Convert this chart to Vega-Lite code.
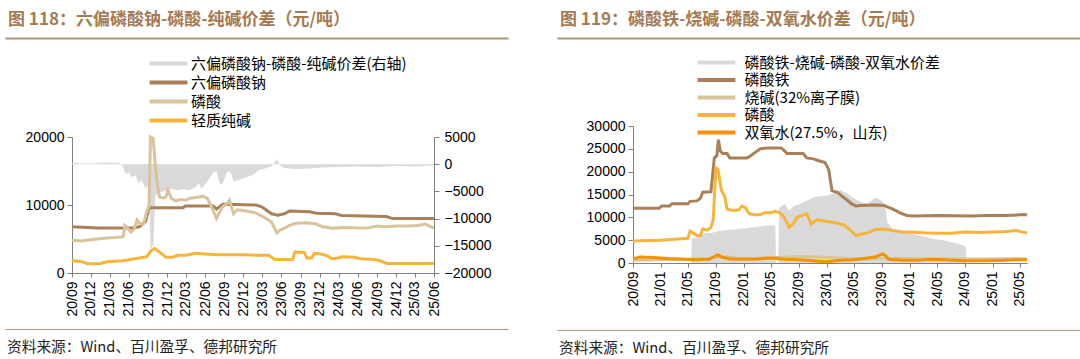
{
"$schema": "https://vega.github.io/schema/vega-lite/v6.json",
"background": "white",
"padding": {"left": 5, "top": 11, "right": 0, "bottom": 0},
"config": {
  "font": "Liberation Sans",
  "view": {"stroke": null},
  "axis": {"labelFont": "Liberation Sans", "labelFontSize": 14, "labelColor": "#000", "domainColor": "#808080", "tickColor": "#808080", "tickSize": 5, "grid": false, "title": null, "labelFlush": false, "labelBound": false, "labelOverlap": false},
  "title": {"font": "Noto Sans CJK SC", "frame": "bounds"}
},
"datasets": {
"hd": [{"x": 0}],
"lA": [{"d":"2020-09-01","v":200},{"d":"2020-12-01","v":150},{"d":"2021-02-01","v":300},{"d":"2021-04-15","v":200},{"d":"2021-05-01","v":-300},{"d":"2021-05-15","v":-1800},{"d":"2021-06-01","v":-1500},{"d":"2021-06-15","v":-2500},{"d":"2021-07-01","v":-2000},{"d":"2021-07-15","v":-3500},{"d":"2021-08-01","v":-3000},{"d":"2021-08-20","v":-4500},{"d":"2021-09-05","v":-3500},{"d":"2021-09-12","v":-15500},{"d":"2021-09-25","v":-15000},{"d":"2021-10-05","v":-6000},{"d":"2021-10-20","v":-5200},{"d":"2021-11-15","v":-5000},{"d":"2021-12-15","v":-4500},{"d":"2022-01-15","v":-4800},{"d":"2022-02-15","v":-4600},{"d":"2022-03-15","v":-4800},{"d":"2022-04-15","v":-4200},{"d":"2022-05-01","v":-3500},{"d":"2022-05-15","v":-4500},{"d":"2022-06-15","v":-3000},{"d":"2022-07-10","v":-1500},{"d":"2022-07-25","v":-1300},{"d":"2022-08-10","v":-3800},{"d":"2022-08-25","v":-3500},{"d":"2022-09-15","v":-1300},{"d":"2022-10-01","v":-1500},{"d":"2022-10-15","v":-3200},{"d":"2022-11-15","v":-2800},{"d":"2022-12-15","v":-2400},{"d":"2023-01-15","v":-2000},{"d":"2023-02-15","v":-1000},{"d":"2023-03-15","v":-800},{"d":"2023-04-15","v":-400},{"d":"2023-05-10","v":900},{"d":"2023-05-25","v":-200},{"d":"2023-06-15","v":-700},{"d":"2023-08-15","v":-900},{"d":"2023-10-15","v":-800},{"d":"2023-12-15","v":-600},{"d":"2024-03-01","v":-500},{"d":"2024-06-01","v":-400},{"d":"2024-09-01","v":-500},{"d":"2024-12-01","v":-300},{"d":"2025-03-01","v":-400},{"d":"2025-06-01","v":-200}],
"lB": [{"d":"2020-09-01","v":6800},{"d":"2020-11-15","v":6700},{"d":"2021-01-01","v":6600},{"d":"2021-06-15","v":6600},{"d":"2021-07-20","v":6800},{"d":"2021-08-20","v":7600},{"d":"2021-09-05","v":9600},{"d":"2022-02-15","v":9600},{"d":"2022-02-25","v":9850},{"d":"2022-07-10","v":9850},{"d":"2022-07-25","v":9400},{"d":"2022-08-10","v":9800},{"d":"2022-08-25","v":10100},{"d":"2023-02-01","v":10000},{"d":"2023-03-01","v":9700},{"d":"2023-04-15","v":8700},{"d":"2023-05-15","v":8500},{"d":"2023-06-15","v":8700},{"d":"2023-07-10","v":9100},{"d":"2023-10-15","v":9000},{"d":"2023-11-15","v":8800},{"d":"2024-02-15","v":8700},{"d":"2024-03-15","v":8450},{"d":"2024-10-15","v":8300},{"d":"2024-11-15","v":8000},{"d":"2025-06-01","v":8000}],
"lC": [{"d":"2020-09-01","v":4800},{"d":"2020-10-15","v":4700},{"d":"2020-12-01","v":4900},{"d":"2021-02-01","v":5100},{"d":"2021-04-25","v":5300},{"d":"2021-05-05","v":5400},{"d":"2021-05-12","v":7000},{"d":"2021-05-28","v":6500},{"d":"2021-06-10","v":6000},{"d":"2021-06-25","v":6400},{"d":"2021-07-10","v":7800},{"d":"2021-07-25","v":7200},{"d":"2021-08-10","v":7300},{"d":"2021-08-25","v":9000},{"d":"2021-09-05","v":9800},{"d":"2021-09-12","v":20000},{"d":"2021-09-25","v":19800},{"d":"2021-10-10","v":14000},{"d":"2021-10-25","v":11200},{"d":"2021-11-15","v":11000},{"d":"2021-11-25","v":11200},{"d":"2021-12-05","v":12200},{"d":"2021-12-20","v":11000},{"d":"2022-01-10","v":10600},{"d":"2022-02-01","v":10800},{"d":"2022-03-01","v":10700},{"d":"2022-03-20","v":11000},{"d":"2022-04-20","v":11100},{"d":"2022-05-20","v":11300},{"d":"2022-06-10","v":11000},{"d":"2022-07-01","v":9800},{"d":"2022-07-25","v":8000},{"d":"2022-08-10","v":9000},{"d":"2022-08-25","v":9800},{"d":"2022-09-10","v":10100},{"d":"2022-09-25","v":10700},{"d":"2022-10-15","v":8700},{"d":"2022-11-01","v":9300},{"d":"2022-12-01","v":9200},{"d":"2023-01-01","v":9000},{"d":"2023-02-01","v":8800},{"d":"2023-03-10","v":8200},{"d":"2023-04-15","v":7500},{"d":"2023-05-10","v":5900},{"d":"2023-05-25","v":6300},{"d":"2023-06-10","v":6500},{"d":"2023-07-10","v":7000},{"d":"2023-08-10","v":7300},{"d":"2023-10-01","v":7400},{"d":"2023-11-15","v":7200},{"d":"2023-12-15","v":6800},{"d":"2024-02-01","v":6600},{"d":"2024-04-01","v":6700},{"d":"2024-06-01","v":6600},{"d":"2024-07-15","v":6600},{"d":"2024-09-01","v":6900},{"d":"2024-10-15","v":6800},{"d":"2024-12-01","v":6900},{"d":"2025-02-01","v":6900},{"d":"2025-03-15","v":7000},{"d":"2025-04-20","v":7200},{"d":"2025-05-10","v":6900},{"d":"2025-06-01","v":6600}],
"lD": [{"d":"2020-09-01","v":1800},{"d":"2020-10-15","v":1700},{"d":"2020-11-15","v":1350},{"d":"2021-01-15","v":1400},{"d":"2021-02-15","v":1650},{"d":"2021-05-01","v":1800},{"d":"2021-07-01","v":2100},{"d":"2021-08-25","v":2400},{"d":"2021-09-15","v":3300},{"d":"2021-10-01","v":3600},{"d":"2021-10-25","v":3100},{"d":"2021-11-25","v":2300},{"d":"2021-12-25","v":2300},{"d":"2022-01-20","v":2600},{"d":"2022-03-01","v":2600},{"d":"2022-04-15","v":2900},{"d":"2022-06-01","v":2800},{"d":"2022-08-01","v":2700},{"d":"2022-10-01","v":2700},{"d":"2022-12-01","v":2700},{"d":"2023-02-01","v":2600},{"d":"2023-04-01","v":2600},{"d":"2023-05-01","v":2000},{"d":"2023-07-25","v":2000},{"d":"2023-08-05","v":3100},{"d":"2023-09-20","v":3000},{"d":"2023-10-01","v":2200},{"d":"2023-10-25","v":2200},{"d":"2023-11-05","v":2900},{"d":"2023-12-10","v":2800},{"d":"2024-01-10","v":2500},{"d":"2024-01-25","v":2100},{"d":"2024-03-01","v":2200},{"d":"2024-03-15","v":2400},{"d":"2024-05-15","v":2300},{"d":"2024-06-15","v":2100},{"d":"2024-08-20","v":2000},{"d":"2024-09-15","v":1800},{"d":"2024-10-20","v":1400},{"d":"2025-06-01","v":1400}],
"rA": [{"d":"2021-05-15","v":0},{"d":"2021-05-18","v":5400},{"d":"2021-06-15","v":5800},{"d":"2021-07-15","v":6500},{"d":"2021-08-15","v":6600},{"d":"2021-09-15","v":7000},{"d":"2021-10-15","v":7200},{"d":"2021-11-15","v":7300},{"d":"2021-12-15","v":7500},{"d":"2022-01-15","v":7600},{"d":"2022-02-15","v":7900},{"d":"2022-03-15","v":8000},{"d":"2022-04-15","v":8200},{"d":"2022-05-10","v":8300},{"d":"2022-05-20","v":8000},{"d":"2022-05-24","v":0},{"d":"2022-06-02","v":0},{"d":"2022-06-06","v":12000},{"d":"2022-07-01","v":13000},{"d":"2022-07-20","v":11500},{"d":"2022-08-10","v":12500},{"d":"2022-09-01","v":12800},{"d":"2022-10-01","v":13500},{"d":"2022-11-01","v":14300},{"d":"2022-12-01","v":14600},{"d":"2023-01-01","v":14800},{"d":"2023-02-01","v":15200},{"d":"2023-03-01","v":16000},{"d":"2023-04-01","v":15200},{"d":"2023-05-01","v":14200},{"d":"2023-06-01","v":13300},{"d":"2023-07-01","v":13000},{"d":"2023-08-01","v":14300},{"d":"2023-08-20","v":14000},{"d":"2023-09-15","v":13000},{"d":"2023-09-25","v":9000},{"d":"2023-10-15","v":7500},{"d":"2023-11-15","v":7200},{"d":"2023-12-15","v":6700},{"d":"2024-02-01","v":6200},{"d":"2024-04-01","v":5400},{"d":"2024-06-01","v":4900},{"d":"2024-08-01","v":4200},{"d":"2024-09-05","v":3600},{"d":"2024-09-08","v":0}],
"rB": [{"d":"2020-09-01","v":12000},{"d":"2020-12-25","v":12000},{"d":"2021-01-05","v":12500},{"d":"2021-02-10","v":12500},{"d":"2021-02-20","v":13000},{"d":"2021-05-01","v":13000},{"d":"2021-05-10","v":13500},{"d":"2021-06-10","v":13600},{"d":"2021-06-25","v":14200},{"d":"2021-07-05","v":15500},{"d":"2021-08-10","v":15600},{"d":"2021-08-25","v":23000},{"d":"2021-09-05","v":23500},{"d":"2021-09-12","v":27000},{"d":"2021-09-20","v":24500},{"d":"2021-10-01","v":24000},{"d":"2021-10-20","v":24000},{"d":"2021-11-01","v":23000},{"d":"2022-01-15","v":23000},{"d":"2022-02-01","v":23500},{"d":"2022-02-15","v":24000},{"d":"2022-03-01","v":24500},{"d":"2022-03-15","v":25000},{"d":"2022-04-15","v":25200},{"d":"2022-06-15","v":25200},{"d":"2022-07-01","v":24500},{"d":"2022-07-10","v":24000},{"d":"2022-09-20","v":24000},{"d":"2022-10-05","v":23000},{"d":"2022-11-05","v":22800},{"d":"2022-11-20","v":22500},{"d":"2022-12-25","v":22000},{"d":"2023-01-10","v":20500},{"d":"2023-01-25","v":15800},{"d":"2023-02-20","v":15400},{"d":"2023-03-10","v":14600},{"d":"2023-04-01","v":13800},{"d":"2023-04-20","v":13000},{"d":"2023-05-10","v":12500},{"d":"2023-06-01","v":12600},{"d":"2023-08-01","v":12700},{"d":"2023-09-10","v":12600},{"d":"2023-09-25","v":12300},{"d":"2023-10-20","v":11800},{"d":"2023-11-20","v":11000},{"d":"2023-12-20","v":10400},{"d":"2024-01-20","v":10300},{"d":"2024-05-01","v":10400},{"d":"2024-10-01","v":10300},{"d":"2024-12-01","v":10400},{"d":"2025-03-01","v":10400},{"d":"2025-05-20","v":10600},{"d":"2025-06-01","v":10500}],
"rC": [{"d":"2020-09-01","v":600},{"d":"2021-01-01","v":700},{"d":"2021-05-01","v":800},{"d":"2021-08-01","v":1000},{"d":"2021-10-01","v":1500},{"d":"2021-12-01","v":1100},{"d":"2022-03-01","v":1000},{"d":"2022-06-01","v":1200},{"d":"2022-09-01","v":1400},{"d":"2022-12-01","v":1300},{"d":"2023-03-01","v":1100},{"d":"2023-06-01","v":900},{"d":"2023-09-01","v":1000},{"d":"2023-12-01","v":1000},{"d":"2024-04-01","v":900},{"d":"2024-08-01","v":850},{"d":"2024-12-01","v":900},{"d":"2025-03-01","v":950},{"d":"2025-06-01","v":900}],
"rD": [{"d":"2020-09-01","v":4800},{"d":"2021-01-01","v":5000},{"d":"2021-05-01","v":5400},{"d":"2021-05-10","v":7000},{"d":"2021-05-25","v":6500},{"d":"2021-06-10","v":6000},{"d":"2021-06-25","v":6000},{"d":"2021-07-05","v":7500},{"d":"2021-07-25","v":7200},{"d":"2021-08-10","v":7800},{"d":"2021-08-20","v":9500},{"d":"2021-09-01","v":20800},{"d":"2021-09-10","v":20500},{"d":"2021-09-25","v":16000},{"d":"2021-10-10","v":14500},{"d":"2021-10-20","v":11800},{"d":"2021-11-15","v":11500},{"d":"2021-12-10","v":11600},{"d":"2021-12-25","v":12500},{"d":"2022-01-10","v":12000},{"d":"2022-01-25","v":10800},{"d":"2022-02-20","v":10500},{"d":"2022-03-15","v":10600},{"d":"2022-04-01","v":11000},{"d":"2022-05-01","v":11000},{"d":"2022-05-20","v":11300},{"d":"2022-06-10","v":11000},{"d":"2022-07-01","v":9800},{"d":"2022-07-20","v":7800},{"d":"2022-08-05","v":8500},{"d":"2022-08-25","v":10000},{"d":"2022-09-20","v":10500},{"d":"2022-10-05","v":10800},{"d":"2022-10-25","v":8500},{"d":"2022-11-20","v":9500},{"d":"2022-12-20","v":9200},{"d":"2023-01-20","v":9000},{"d":"2023-02-20","v":8700},{"d":"2023-03-20","v":8300},{"d":"2023-04-20","v":7000},{"d":"2023-05-10","v":6000},{"d":"2023-06-01","v":6300},{"d":"2023-07-01","v":6600},{"d":"2023-08-01","v":7300},{"d":"2023-09-01","v":7400},{"d":"2023-10-01","v":7300},{"d":"2023-11-01","v":7000},{"d":"2023-12-01","v":6800},{"d":"2024-01-01","v":6800},{"d":"2024-03-01","v":6600},{"d":"2024-05-01","v":6500},{"d":"2024-07-01","v":6500},{"d":"2024-09-01","v":6800},{"d":"2024-11-01","v":6700},{"d":"2025-01-01","v":6800},{"d":"2025-03-01","v":6900},{"d":"2025-04-15","v":7100},{"d":"2025-05-10","v":6800},{"d":"2025-06-01","v":6600}],
"rE": [{"d":"2020-09-01","v":900},{"d":"2020-10-01","v":1300},{"d":"2020-12-01","v":1200},{"d":"2021-02-01","v":1000},{"d":"2021-04-01","v":900},{"d":"2021-06-01","v":700},{"d":"2021-08-01","v":800},{"d":"2021-09-10","v":1800},{"d":"2021-09-25","v":1300},{"d":"2021-11-01","v":900},{"d":"2022-01-01","v":800},{"d":"2022-03-01","v":900},{"d":"2022-05-01","v":1100},{"d":"2022-07-01","v":800},{"d":"2022-09-01","v":700},{"d":"2022-11-01","v":500},{"d":"2023-01-01","v":300},{"d":"2023-03-01","v":600},{"d":"2023-05-01","v":700},{"d":"2023-07-01","v":1100},{"d":"2023-08-01","v":1300},{"d":"2023-09-05","v":2000},{"d":"2023-09-20","v":1500},{"d":"2023-10-01","v":800},{"d":"2023-12-01","v":600},{"d":"2024-02-01","v":600},{"d":"2024-04-01","v":800},{"d":"2024-06-01","v":700},{"d":"2024-09-01","v":500},{"d":"2024-12-01","v":500},{"d":"2025-03-01","v":600},{"d":"2025-05-01","v":700},{"d":"2025-06-01","v":700}]
},
"spacing": -18,
"resolve": {"scale": {"color": "independent"}, "legend": {"color": "independent"}},
"hconcat": [
{
 "columns": 1, "align": "none", "spacing": 0,
 "concat": [
  {"width": 436, "height": 92, "data": {"name": "hd"}, "mark": "text",
   "title": {"text": "图 118：六偏磷酸钠-磷酸-纯碱价差（元/吨）", "anchor": "start", "fontSize": 17, "fontWeight": "bold", "color": "#a57a52", "offset": 9, "dx": 3},
   "encoding": {"text": {"value": ""}, "x": {"field": "x", "type": "quantitative", "scale": {"domain": [0, 1], "range": [-67, 436]}, "axis": {"orient": "top", "domainColor": "#b39475", "domainWidth": 2, "ticks": false, "labels": false}}}},
  {"width": 362, "height": 136,
   "encoding": {
      "x": {"field": "d", "type": "temporal", "scale": {"type": "utc", "domain": [{"year":2020,"month":9,"date":1,"utc":true},{"year":2025,"month":6,"date":1,"utc":true}]},
            "axis": {"format": "%y/%m", "labelAngle": 270, "tickSize": 4, "labelPadding": 4, "minExtent": 50, "values": [{"year":2020,"month":9,"date":1,"utc":true},{"year":2020,"month":12,"date":1,"utc":true},{"year":2021,"month":3,"date":1,"utc":true},{"year":2021,"month":6,"date":1,"utc":true},{"year":2021,"month":9,"date":1,"utc":true},{"year":2021,"month":12,"date":1,"utc":true},{"year":2022,"month":3,"date":1,"utc":true},{"year":2022,"month":6,"date":1,"utc":true},{"year":2022,"month":9,"date":1,"utc":true},{"year":2022,"month":12,"date":1,"utc":true},{"year":2023,"month":3,"date":1,"utc":true},{"year":2023,"month":6,"date":1,"utc":true},{"year":2023,"month":9,"date":1,"utc":true},{"year":2023,"month":12,"date":1,"utc":true},{"year":2024,"month":3,"date":1,"utc":true},{"year":2024,"month":6,"date":1,"utc":true},{"year":2024,"month":9,"date":1,"utc":true},{"year":2024,"month":12,"date":1,"utc":true},{"year":2025,"month":3,"date":1,"utc":true},{"year":2025,"month":6,"date":1,"utc":true}]}}
   },
   "layer": [
    {"data": {"name": "lA"}, "mark": {"type": "area", "opacity": 1},
     "encoding": {
      "y": {"field": "v", "type": "quantitative", "scale": {"domain": [-20000, 5000], "nice": false, "zero": false}, "axis": {"orient": "right", "values": [-20000,-15000,-10000,-5000,0,5000], "format": "d", "labelPadding": 5}},
      "y2": {"datum": 0},
      "color": {"datum": "六偏磷酸钠-磷酸-纯碱价差(右轴)", "type": "nominal",
        "scale": {"domain": ["六偏磷酸钠-磷酸-纯碱价差(右轴)", "六偏磷酸钠", "磷酸", "轻质纯碱"], "range": ["#d9d9d9", "#a98058", "#d8c39b", "#f6b53a"]},
        "legend": {"orient": "none", "legendX": 89, "legendY": 18, "title": null, "symbolType": "M-4.2,-0.42H4.2V0.42H-4.2Z", "symbolSize": 81, "symbolStrokeWidth": 0, "labelFont": "Noto Sans CJK SC", "labelFontSize": 15, "labelColor": "#000", "labelOffset": 15, "rowPadding": 3, "labelLimit": 400,
          "encode": {"symbols": {"update": {
            "fill": {"signal": "datum.value == '六偏磷酸钠-磷酸-纯碱价差(右轴)' ? '#d9d9d9' : datum.value == '六偏磷酸钠' ? '#a98058' : datum.value == '磷酸' ? '#d8c39b' : '#f6b53a'"},
            "stroke": {"value": "transparent"}, "opacity": {"value": 1},
            "shape": {"signal": "datum.value == '六偏磷酸钠-磷酸-纯碱价差(右轴)' ? 'M-4.2,-0.75H4.2V0.75H-4.2Z' : 'M-4.2,-0.42H4.2V0.42H-4.2Z'"}}}}}}
     }},
    {"layer": [
      {"data": {"name": "lB"}, "mark": {"type": "line", "strokeWidth": 3},
       "encoding": {
        "y": {"field": "v", "type": "quantitative", "scale": {"domain": [0, 20000], "nice": false}, "axis": {"orient": "left", "values": [0,5000,10000,15000,20000], "format": "d", "minExtent": 67, "labelPadding": 3}},
        "color": {"datum": "六偏磷酸钠", "type": "nominal"}}},
      {"data": {"name": "lC"}, "mark": {"type": "line", "strokeWidth": 3},
       "encoding": {"y": {"field": "v", "type": "quantitative"}, "color": {"datum": "磷酸", "type": "nominal"}}},
      {"data": {"name": "lD"}, "mark": {"type": "line", "strokeWidth": 3},
       "encoding": {"y": {"field": "v", "type": "quantitative"}, "color": {"datum": "轻质纯碱", "type": "nominal"}}}
    ]}
   ],
   "resolve": {"scale": {"y": "independent"}}
  },
  {"width": 436, "height": 1, "data": {"name": "hd"}, "mark": "text",
   "title": {"text": "资料来源：Wind、百川盈孚、德邦研究所", "orient": "bottom", "anchor": "start", "fontSize": 14.7, "fontWeight": "normal", "color": "#222", "offset": 5, "dx": 2},
   "encoding": {"text": {"value": ""}, "x": {"field": "x", "type": "quantitative", "scale": {"domain": [0, 1], "range": [-67, 436]}, "axis": {"orient": "top", "domainColor": "#b39475", "domainWidth": 1, "ticks": false, "labels": false}}}}
 ]
},
{
 "columns": 1, "align": "none", "spacing": 0,
 "concat": [
  {"width": 447, "height": 81, "data": {"name": "hd"}, "mark": "text",
   "title": {"text": "图 119：磷酸铁-烧碱-磷酸-双氧水价差（元/吨）", "anchor": "start", "fontSize": 17, "fontWeight": "bold", "color": "#a57a52", "offset": 9, "dx": 3},
   "encoding": {"text": {"value": ""}, "x": {"field": "x", "type": "quantitative", "scale": {"domain": [0, 1], "range": [-76, 447]}, "axis": {"orient": "top", "domainColor": "#b39475", "domainWidth": 2, "ticks": false, "labels": false}}}},
  {"width": 394, "height": 137,
   "encoding": {
     "x": {"field": "d", "type": "temporal", "scale": {"type": "utc", "domain": [{"year":2020,"month":9,"date":1,"utc":true},{"year":2025,"month":6,"date":1,"utc":true}]},
           "axis": {"format": "%y/%m", "labelAngle": 270, "tickSize": 4, "labelPadding": 4, "minExtent": 61, "values": [{"year":2020,"month":9,"date":1,"utc":true},{"year":2021,"month":1,"date":1,"utc":true},{"year":2021,"month":5,"date":1,"utc":true},{"year":2021,"month":9,"date":1,"utc":true},{"year":2022,"month":1,"date":1,"utc":true},{"year":2022,"month":5,"date":1,"utc":true},{"year":2022,"month":9,"date":1,"utc":true},{"year":2023,"month":1,"date":1,"utc":true},{"year":2023,"month":5,"date":1,"utc":true},{"year":2023,"month":9,"date":1,"utc":true},{"year":2024,"month":1,"date":1,"utc":true},{"year":2024,"month":5,"date":1,"utc":true},{"year":2024,"month":9,"date":1,"utc":true},{"year":2025,"month":1,"date":1,"utc":true},{"year":2025,"month":5,"date":1,"utc":true}]}},
     "y": {"field": "v", "type": "quantitative", "scale": {"domain": [0, 30000], "nice": false}, "axis": {"values": [0,5000,10000,15000,20000,25000,30000], "format": "d", "minExtent": 76, "labelPadding": 3}}
   },
   "layer": [
    {"data": {"name": "rA"}, "mark": {"type": "area", "opacity": 1},
     "encoding": {"y2": {"datum": 0},
      "color": {"datum": "磷酸铁-烧碱-磷酸-双氧水价差", "type": "nominal",
        "scale": {"domain": ["磷酸铁-烧碱-磷酸-双氧水价差", "磷酸铁", "烧碱(32%离子膜)", "磷酸", "双氧水(27.5%，山东)"], "range": ["#d9d9d9", "#a98058", "#d8c39b", "#f6b53a", "#f39200"]},
        "legend": {"orient": "none", "legendX": 76, "legendY": 17, "title": null, "symbolType": "M-4.2,-0.42H4.2V0.42H-4.2Z", "symbolSize": 81, "symbolStrokeWidth": 0, "labelFont": "Noto Sans CJK SC", "labelFontSize": 15, "labelColor": "#000", "labelOffset": 20.5, "rowPadding": 1.5, "labelLimit": 400,
          "encode": {"symbols": {"update": {
            "fill": {"signal": "datum.value == '磷酸铁-烧碱-磷酸-双氧水价差' ? '#d9d9d9' : datum.value == '磷酸铁' ? '#a98058' : datum.value == '烧碱(32%离子膜)' ? '#d8c39b' : datum.value == '磷酸' ? '#f6b53a' : '#f39200'"},
            "stroke": {"value": "transparent"}, "opacity": {"value": 1},
            "shape": {"signal": "datum.value == '磷酸铁-烧碱-磷酸-双氧水价差' ? 'M-4.2,-0.75H4.2V0.75H-4.2Z' : 'M-4.2,-0.42H4.2V0.42H-4.2Z'"}}}}}}}},
    {"data": {"name": "rB"}, "mark": {"type": "line", "strokeWidth": 3}, "encoding": {"color": {"datum": "磷酸铁", "type": "nominal"}}},
    {"data": {"name": "rC"}, "mark": {"type": "line", "strokeWidth": 3}, "encoding": {"color": {"datum": "烧碱(32%离子膜)", "type": "nominal"}}},
    {"data": {"name": "rD"}, "mark": {"type": "line", "strokeWidth": 3}, "encoding": {"color": {"datum": "磷酸", "type": "nominal"}}},
    {"data": {"name": "rE"}, "mark": {"type": "line", "strokeWidth": 3}, "encoding": {"color": {"datum": "双氧水(27.5%，山东)", "type": "nominal"}}}
   ]
  },
  {"width": 447, "height": 1, "data": {"name": "hd"}, "mark": "text",
   "title": {"text": "资料来源：Wind、百川盈孚、德邦研究所", "orient": "bottom", "anchor": "start", "fontSize": 14.7, "fontWeight": "normal", "color": "#222", "offset": 5, "dx": 2},
   "encoding": {"text": {"value": ""}, "x": {"field": "x", "type": "quantitative", "scale": {"domain": [0, 1], "range": [-76, 447]}, "axis": {"orient": "top", "domainColor": "#b39475", "domainWidth": 1, "ticks": false, "labels": false}}}}
 ]
}
]
}
